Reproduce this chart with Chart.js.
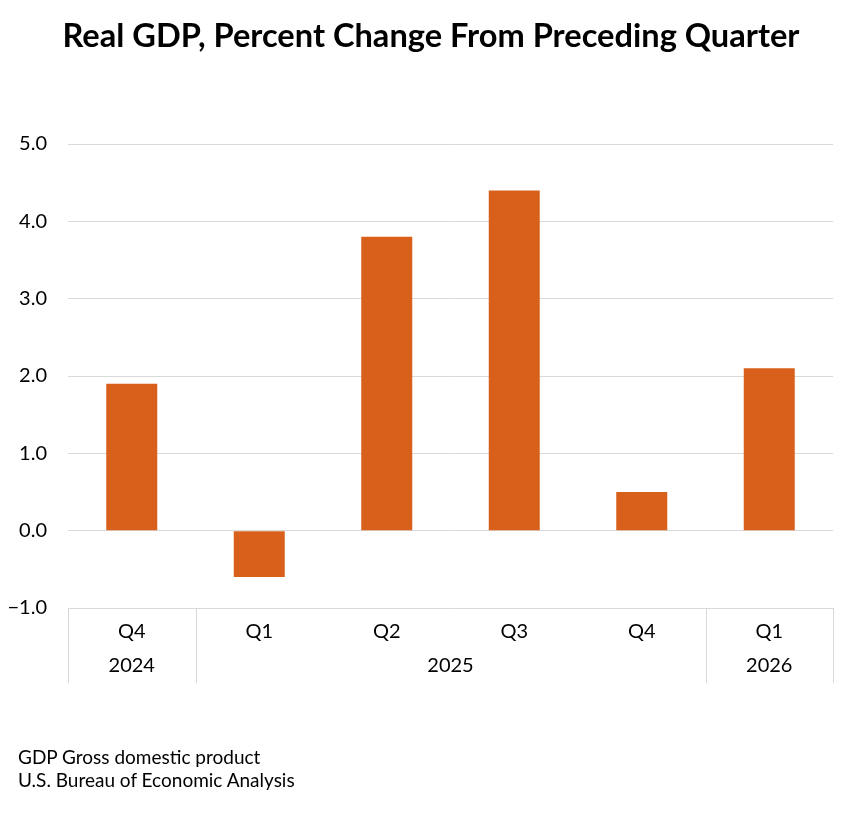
<!DOCTYPE html>
<html>
<head>
<meta charset="utf-8">
<script src="https://cdn.jsdelivr.net/npm/chart.js@4.4.1/dist/chart.umd.min.js"></script>
<style>
  html, body { margin: 0; padding: 0; background: #fff; }
  #wrap { position: relative; width: 862px; height: 827px; }
  #titulo {
    position: absolute; left: 0; top: 15px; width: 862px; text-align: center;
    font-family: Lato, "Open Sans", sans-serif; font-weight: bold; font-size: 32.6px; line-height: 40px; color: #000;
  }
  #notas {
    position: absolute; left: 18px; top: 745px;
    font-family: Lato, "Open Sans", sans-serif; font-size: 19px; line-height: 23px; color: #000;
  }
</style>
</head>
<body>
<div id="wrap">
  <canvas id="grafico"></canvas>
  <div id="titulo"></div>
  <div id="notas"></div>
</div>
<script>
// datos
var trimestres = ['Q4', 'Q1', 'Q2', 'Q3', 'Q4', 'Q1'];
var anios = ['2024', '2025', '2025', '2025', '2025', '2026'];
var valores = [1.9, -0.6, 3.8, 4.4, 0.5, 2.1];
var titulo = 'Real GDP, Percent Change From Preceding Quarter';
var notas = ['GDP Gross domestic product', 'U.S. Bureau of Economic Analysis'];

var colorBarra = '#D9601A';
var colorGrid = '#d9d9d9';
var fuente = 'Lato, "Open Sans", sans-serif';

document.getElementById('titulo').textContent = titulo;
document.getElementById('notas').innerHTML = notas.join('<br>');

// etiquetas de año agrupadas y separadores verticales
var gruposAnio = {
  id: 'gruposAnio',
  afterDraw: function (chart) {
    var x = chart.scales.x;
    var area = chart.chartArea;
    var ctx = chart.ctx;
    var mitad = (x.getPixelForValue(1) - x.getPixelForValue(0)) / 2;
    var grupos = [];
    for (var i = 0; i < anios.length; i++) {
      if (i === 0 || anios[i] !== anios[i - 1]) {
        grupos.push({ anio: anios[i], ini: i, fin: i });
      } else {
        grupos[grupos.length - 1].fin = i;
      }
    }
    ctx.save();
    ctx.strokeStyle = colorGrid;
    ctx.lineWidth = 1;
    var bordes = [];
    grupos.forEach(function (g) {
      bordes.push(x.getPixelForValue(g.ini) - mitad);
    });
    bordes.push(x.getPixelForValue(anios.length - 1) + mitad);
    bordes.forEach(function (bx) {
      var px = Math.round(bx) + 0.5;
      ctx.beginPath();
      ctx.moveTo(px, area.bottom);
      ctx.lineTo(px, area.bottom + 75);
      ctx.stroke();
    });
    ctx.fillStyle = '#000';
    ctx.font = '20px ' + fuente;
    ctx.textAlign = 'center';
    ctx.textBaseline = 'middle';
    grupos.forEach(function (g) {
      var cx = (x.getPixelForValue(g.ini) + x.getPixelForValue(g.fin)) / 2;
      ctx.fillText(g.anio, cx, area.bottom + 58);
    });
    ctx.restore();
  }
};

var ctx = document.getElementById('grafico');
var grafico = new Chart(ctx, {
  type: 'bar',
  data: {
    labels: trimestres,
    datasets: [{
      data: valores,
      backgroundColor: colorBarra,
      borderWidth: 0,
      categoryPercentage: 0.8,
      barPercentage: 0.5
    }]
  },
  options: {
    responsive: true,
    maintainAspectRatio: false,
    animation: false,
    layout: {
      padding: { left: 0, right: 29, top: 144, bottom: 109 }
    },
    plugins: {
      legend: { display: false },
      tooltip: { enabled: false },
      title: { display: false }
    },
    scales: {
      x: {
        grid: { display: false, drawTicks: false },
        border: { display: false },
        ticks: {
          color: '#000',
          font: { family: fuente, size: 20 },
          padding: 12,
          maxRotation: 0
        },
        afterFit: function (scale) { scale.height = 110; }
      },
      y: {
        min: -1,
        max: 5,
        border: { display: false },
        grid: { color: colorGrid, drawTicks: false },
        ticks: {
          stepSize: 1,
          color: '#000',
          padding: 21,
          font: { family: fuente, size: 20 },
          callback: function (v) {
            return v < 0 ? '\u2212' + Math.abs(v).toFixed(1) : v.toFixed(1);
          }
        },
        afterFit: function (scale) { scale.width = 68; }
      }
    }
  },
  plugins: [gruposAnio]
});
</script>
</body>
</html>
